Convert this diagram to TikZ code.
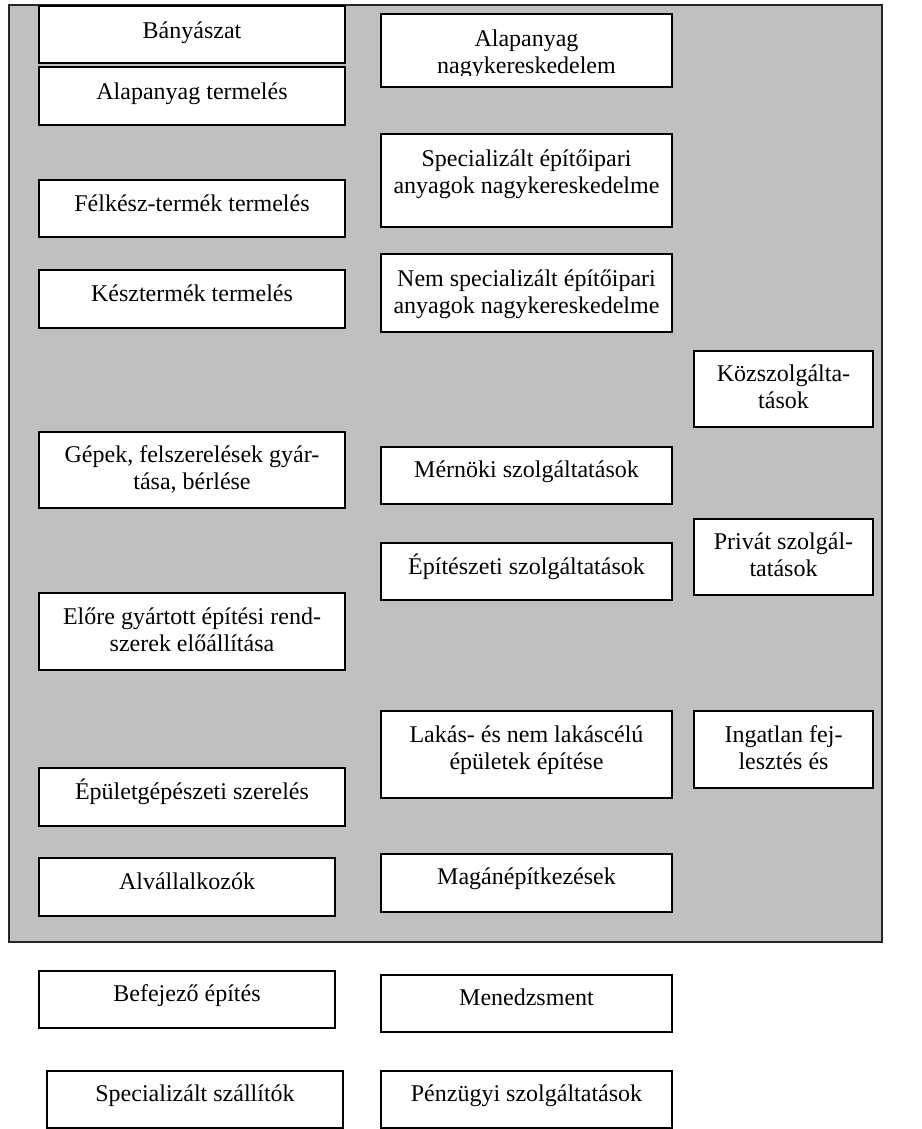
\documentclass[tikz,border=0pt]{standalone}
\usepackage{fontspec}
\setmainfont{Liberation Serif}
\usetikzlibrary{calc}
\definecolor{bggray}{HTML}{C0C0C0}
\tikzset{
  x=0.5pt, y=-0.5pt,
  frame/.style={draw=black!85, fill=bggray, line width=0.9pt},
  boxst/.style={draw=black, fill=white, line width=0.9pt, inner sep=0pt},
  lbl/.style={inner sep=0pt, anchor=base, font=\fontsize{12}{13.5}\selectfont}
}
% name, x1, y1, x2, y2, baseline offset, text
\newcommand\bx[7]{%
  \node[boxst, minimum width={(#4-#2)*0.5pt}, minimum height={(#5-#3)*0.5pt}]
    (#1) at ({(#2+#4)/2},{(#3+#5)/2}) {};
  \node[lbl] (#1t) at ($(#1.north)+(0,#6)$)
    {\begin{tabular}[t]{@{}c@{}}#7\end{tabular}};%
}
\begin{document}
\begin{tikzpicture}
\useasboundingbox (0,0) rectangle (921,1129);
\node[frame, inner sep=0pt, minimum width={873*0.5pt}, minimum height={937*0.5pt}]
  (bg) at (445.5,473.5) {};
% left column
\bx{ban}{39}{6}{345}{63}{33}{Bányászat}
\bx{alt}{39}{67}{345}{125}{33}{Alapanyag termelés}
\bx{fel}{39}{180}{345}{237}{32}{Félkész-termék termelés}
\bx{kesz}{39}{270}{345}{328}{32}{Késztermék termelés}
\bx{gep}{39}{432}{345}{508}{31}{Gépek, felszerelések gyár-\\tása, bérlése}
\bx{elo}{39}{593}{345}{670}{32}{Előre gyártott építési rend-\\szerek előállítása}
\bx{epg}{39}{768}{345}{826}{32}{Épületgépészeti szerelés}
\bx{alv}{39}{858}{335}{916}{32}{Alvállalkozók}
\bx{bef}{39}{971}{335}{1028}{31}{Befejező építés}
\bx{ssz}{47}{1071}{343}{1128}{31}{Specializált szállítók}
% middle column
\node[boxst, minimum width={291*0.5pt}, minimum height={73*0.5pt}]
  (ank) at (526.5,50.5) {};
\begin{scope}
  \clip (381,14) rectangle (672,76);
  \node[lbl] (ankt) at ($(ank.north)+(0,33)$)
    {\begin{tabular}[t]{@{}c@{}}Alapanyag\\nagykereskedelem\end{tabular}};
\end{scope}
\bx{spn}{381}{134}{672}{227}{33}{Specializált építőipari\\anyagok nagykereskedelme}
\bx{nsp}{381}{254}{672}{332}{33}{Nem specializált építőipari\\anyagok nagykereskedelme}
\bx{mer}{381}{447}{672}{504}{31}{Mérnöki szolgáltatások}
\bx{epi}{381}{543}{672}{600}{32}{Építészeti szolgáltatások}
\bx{lak}{381}{711}{672}{798}{32}{Lakás- és nem lakáscélú\\épületek építése}
\bx{mag}{381}{854}{672}{912}{31}{Magánépítkezések}
\bx{men}{381}{975}{672}{1032}{31}{Menedzsment}
\bx{pen}{381}{1071}{672}{1128}{31}{Pénzügyi szolgáltatások}
% right column
\bx{koz}{694}{351}{873}{427}{31}{Közszolgálta-\\tások}
\bx{pri}{694}{519}{873}{595}{31}{Privát szolgál-\\tatások}
\bx{ing}{694}{711}{873}{788}{32}{Ingatlan fej-\\lesztés és}
\end{tikzpicture}
\end{document}
